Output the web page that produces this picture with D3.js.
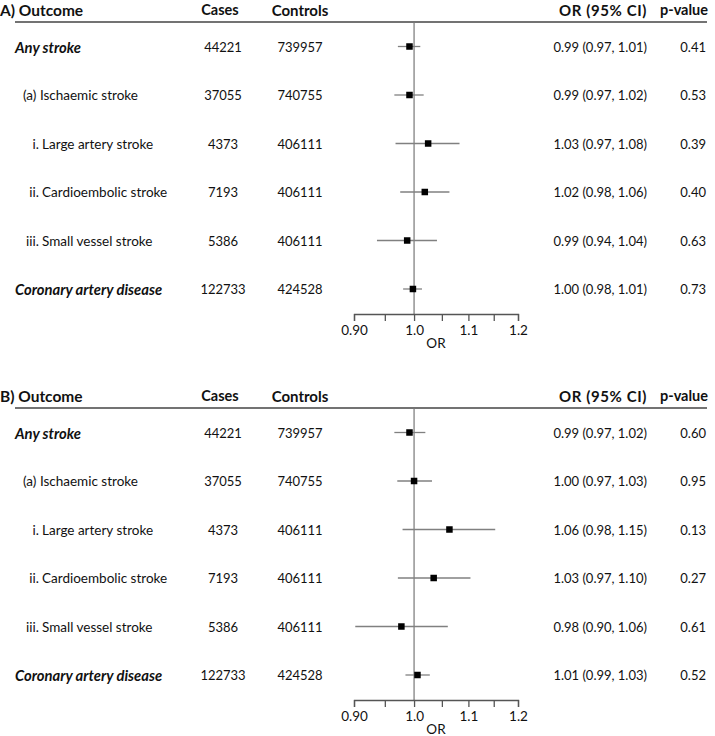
<!DOCTYPE html>
<html><head><meta charset="utf-8">
<script src="https://cdn.jsdelivr.net/npm/d3@7"></script>
<style>
html,body{margin:0;padding:0;background:#fff;}
svg text{font-family:Lato,"Noto Sans",sans-serif;fill:#111;}
</style></head>
<body><svg id="chart" width="715" height="736"></svg>
<script>
const panels = ["A", "B"];
const outcomes = ["Any stroke", "(a) Ischaemic stroke", "i. Large artery stroke", "ii. Cardioembolic stroke", "iii. Small vessel stroke", "Coronary artery disease"];
const levels = [0, 1, 2, 2, 2, 0];
const cases = [44221, 37055, 4373, 7193, 5386, 122733];
const controls = [739957, 740755, 406111, 406111, 406111, 424528];

const orA = [0.992, 0.992, 1.025, 1.019, 0.988, 0.998];
const loA = [0.972, 0.966, 0.968, 0.976, 0.937, 0.981];
const hiA = [1.011, 1.017, 1.083, 1.064, 1.041, 1.014];
const ciTextA = ["0.99 (0.97, 1.01)", "0.99 (0.97, 1.02)", "1.03 (0.97, 1.08)", "1.02 (0.98, 1.06)", "0.99 (0.94, 1.04)", "1.00 (0.98, 1.01)"];
const pA = ["0.41", "0.53", "0.39", "0.40", "0.63", "0.73"];

const orB = [0.992, 1.000, 1.064, 1.035, 0.978, 1.006];
const loB = [0.966, 0.971, 0.980, 0.972, 0.902, 0.985];
const hiB = [1.020, 1.032, 1.153, 1.104, 1.061, 1.028];
const ciTextB = ["0.99 (0.97, 1.02)", "1.00 (0.97, 1.03)", "1.06 (0.98, 1.15)", "1.03 (0.97, 1.10)", "0.98 (0.90, 1.06)", "1.01 (0.99, 1.03)"];
const pB = ["0.60", "0.95", "0.13", "0.27", "0.61", "0.52"];

const tickValues = [0.90, 0.95, 1.00, 1.05, 1.10, 1.15, 1.20];
const tickLabels = ["0.90", "", "1.0", "", "1.1", "", "1.2"];
const headers = ["Outcome", "Cases", "Controls", "OR (95% CI)", "p-value"];
const axisTitle = "OR";

const panelData = [
  {or: orA, lo: loA, hi: hiA, ci: ciTextA, p: pA},
  {or: orB, lo: loB, hi: hiB, ci: ciTextB, p: pB}
];

const svg = d3.select("#chart");
const x = d3.scaleLog().domain([0.9, 1.2]).range([354, 518]);
const rowStep = 48.5;

panels.forEach((pl, pi) => {
  const top = 22 + pi * 386;
  const g = svg.append("g");
  const d = panelData[pi];
  const hy = top - 12.5;
  const hfs = "14.5px";
  g.append("text").attr("x", 0).attr("y", hy).attr("dominant-baseline", "central")
    .attr("font-weight", "bold").attr("font-size", "15.5px").text(pl + ") " + headers[0]);
  g.append("text").attr("x", 220).attr("y", hy).attr("dominant-baseline", "central").attr("text-anchor", "middle")
    .attr("font-weight", "bold").attr("font-size", hfs).text(headers[1]);
  g.append("text").attr("x", 300).attr("y", hy).attr("dominant-baseline", "central").attr("text-anchor", "middle")
    .attr("font-weight", "bold").attr("font-size", "15px").text(headers[2]);
  g.append("text").attr("x", 647).attr("y", hy).attr("dominant-baseline", "central").attr("text-anchor", "end")
    .attr("font-weight", "bold").attr("font-size", "15px").attr("letter-spacing", "0.6px").text(headers[3]);
  g.append("text").attr("x", 708).attr("y", hy).attr("dominant-baseline", "central").attr("text-anchor", "end")
    .attr("font-weight", "bold").attr("font-size", hfs).text(headers[4]);

  g.append("line").attr("x1", 15).attr("x2", 707).attr("y1", top).attr("y2", top)
    .attr("stroke", "#444").attr("stroke-width", 1.5);

  const axisY = top + 292;
  g.append("line").attr("x1", x(1)).attr("x2", x(1)).attr("y1", top).attr("y2", axisY)
    .attr("stroke", "#777").attr("stroke-width", 1.2);

  const rowY = i => top + 24.5 + i * rowStep;
  const fs = "13px";
  outcomes.forEach((o, i) => {
    const y = rowY(i);
    const lv = levels[i];
    if (lv === 0) {
      g.append("text").attr("x", 15).attr("y", y).attr("dominant-baseline", "central")
        .attr("font-weight", "bold").attr("font-style", "italic").attr("font-size", "14.8px").text(o);
    } else if (lv === 1) {
      g.append("text").attr("x", 23).attr("y", y).attr("dominant-baseline", "central")
        .attr("font-size", "13.5px").text(o);
    } else {
      const sp = o.indexOf(" ");
      g.append("text").attr("x", 39).attr("y", y).attr("dominant-baseline", "central").attr("text-anchor", "end")
        .attr("font-size", "13.5px").text(o.slice(0, sp));
      g.append("text").attr("x", 42).attr("y", y).attr("dominant-baseline", "central")
        .attr("font-size", "13.5px").text(o.slice(sp + 1));
    }
    g.append("text").attr("x", 223).attr("y", y).attr("dominant-baseline", "central").attr("text-anchor", "middle")
      .attr("font-size", fs).text(cases[i]);
    g.append("text").attr("x", 300).attr("y", y).attr("dominant-baseline", "central").attr("text-anchor", "middle")
      .attr("font-size", fs).text(controls[i]);
    g.append("text").attr("x", 647).attr("y", y).attr("dominant-baseline", "central").attr("text-anchor", "end")
      .attr("font-size", fs).text(d.ci[i]);
    g.append("text").attr("x", 706).attr("y", y).attr("dominant-baseline", "central").attr("text-anchor", "end")
      .attr("font-size", fs).text(d.p[i]);
    g.append("line").attr("x1", x(d.lo[i])).attr("x2", x(d.hi[i])).attr("y1", y).attr("y2", y)
      .attr("stroke", "#808080").attr("stroke-width", 1.3);
    const s = 6.5;
    g.append("rect").attr("x", x(d.or[i]) - s / 2).attr("y", y - s / 2).attr("width", s).attr("height", s)
      .attr("fill", "#000");
  });

  const axis = d3.axisBottom(x).tickValues(tickValues).tickSize(7).tickPadding(4)
    .tickFormat((v, i) => tickLabels[i]);
  const ag = g.append("g").attr("transform", `translate(0,${axisY})`).call(axis);
  ag.select(".domain").attr("stroke", "#555").attr("stroke-width", 1.3);
  ag.selectAll(".tick line").attr("stroke", "#555").attr("stroke-width", 1.3);
  ag.selectAll(".tick text").attr("font-size", "13.5px").attr("font-family", "Lato, sans-serif").attr("fill", "#111");
  g.append("text").attr("x", (x.range()[0] + x.range()[1]) / 2).attr("y", axisY + 29)
    .attr("dominant-baseline", "central").attr("text-anchor", "middle").attr("font-size", "13.5px").text(axisTitle);
});
</script></body></html>
